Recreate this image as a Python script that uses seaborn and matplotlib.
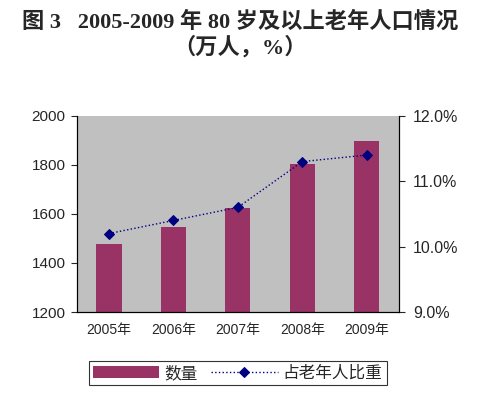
import matplotlib
matplotlib.use("Agg")
import matplotlib.pyplot as plt
import numpy as np
import pandas as pd
import seaborn as sns
from matplotlib.ticker import FixedLocator, FuncFormatter

# 2005-2009 80岁及以上老年人口 (万人) 与占老年人比重 (%)
years = ["2005年", "2006年", "2007年", "2008年", "2009年"]
counts = [1478, 1547, 1626, 1805, 1899]
shares = [10.2, 10.4, 10.6, 11.3, 11.4]

df = pd.DataFrame({"year": years, "count": counts, "share": shares})

sns.set_style("white")
plt.rcParams["font.family"] = ["Liberation Sans", "Noto Sans CJK SC"]

bar_color = "#993366"
line_color = "#000080"

fig = plt.figure(figsize=(4.8, 3.98), dpi=100)
ax = fig.add_axes([0.160, 0.216, 0.671, 0.493])
ax.set_facecolor("#C0C0C0")

sns.barplot(data=df, x="year", y="count", color=bar_color, width=0.39,
            saturation=1, linewidth=0, edgecolor="none", ax=ax,
            label="数量", legend=False)
ax.set_ylim(1200, 2000)
ax.set_yticks([1200, 1400, 1600, 1800, 2000])
ax.set_xlabel("")
ax.set_ylabel("")
ax.tick_params(axis="y", direction="out", length=4, labelsize=11, pad=4)
ax.tick_params(axis="x", which="major", length=0, labelsize=10, pad=8)
ax.xaxis.set_minor_locator(FixedLocator(np.arange(len(years) + 1) - 0.5))
ax.tick_params(axis="x", which="minor", direction="in", length=4, color="black")

ax2 = ax.twinx()
sns.pointplot(data=df, x="year", y="share", color=line_color, markers="D",
              linestyles=":", markersize=5, linewidth=1, ax=ax2, label="占老年人比重")
if ax2.get_legend() is not None:
    ax2.get_legend().remove()
ax2.set_ylim(9.0, 12.0)
ax2.set_yticks([9.0, 10.0, 11.0, 12.0])
ax2.yaxis.set_major_formatter(FuncFormatter(lambda v, p: f"{v:.1f}%"))
ax2.set_ylabel("")
ax2.tick_params(axis="y", direction="out", length=4, labelsize=11.5, pad=6)
ax.set_xlim(-0.5, len(years) - 0.5)

for a in (ax, ax2):
    a.spines["top"].set_visible(False)
    for s in ("left", "right", "bottom"):
        a.spines[s].set_color("black")
        a.spines[s].set_linewidth(0.8)

# legend
h1, l1 = ax.get_legend_handles_labels()
h2, l2 = ax2.get_legend_handles_labels()
leg = fig.legend(h1 + h2, l1 + l2, loc="center", bbox_to_anchor=(0.495, 0.063),
                 ncol=2, frameon=True, fancybox=False, edgecolor="black",
                 fontsize=12, handlelength=4.0, handletextpad=0.3,
                 columnspacing=0.8, borderpad=0.25, borderaxespad=0.2)
leg.get_frame().set_linewidth(0.8)

title_font = ["Liberation Serif", "Noto Sans CJK SC"]
fig.text(0.5, 0.945, "图 3   2005-2009 年 80 岁及以上老年人口情况", ha="center", va="center",
         fontsize=16, fontweight="bold", family=title_font)
fig.text(0.5, 0.882, "（万人，%）", ha="center", va="center",
         fontsize=16, fontweight="bold", family=title_font)

fig.savefig("out.png", dpi=100)
